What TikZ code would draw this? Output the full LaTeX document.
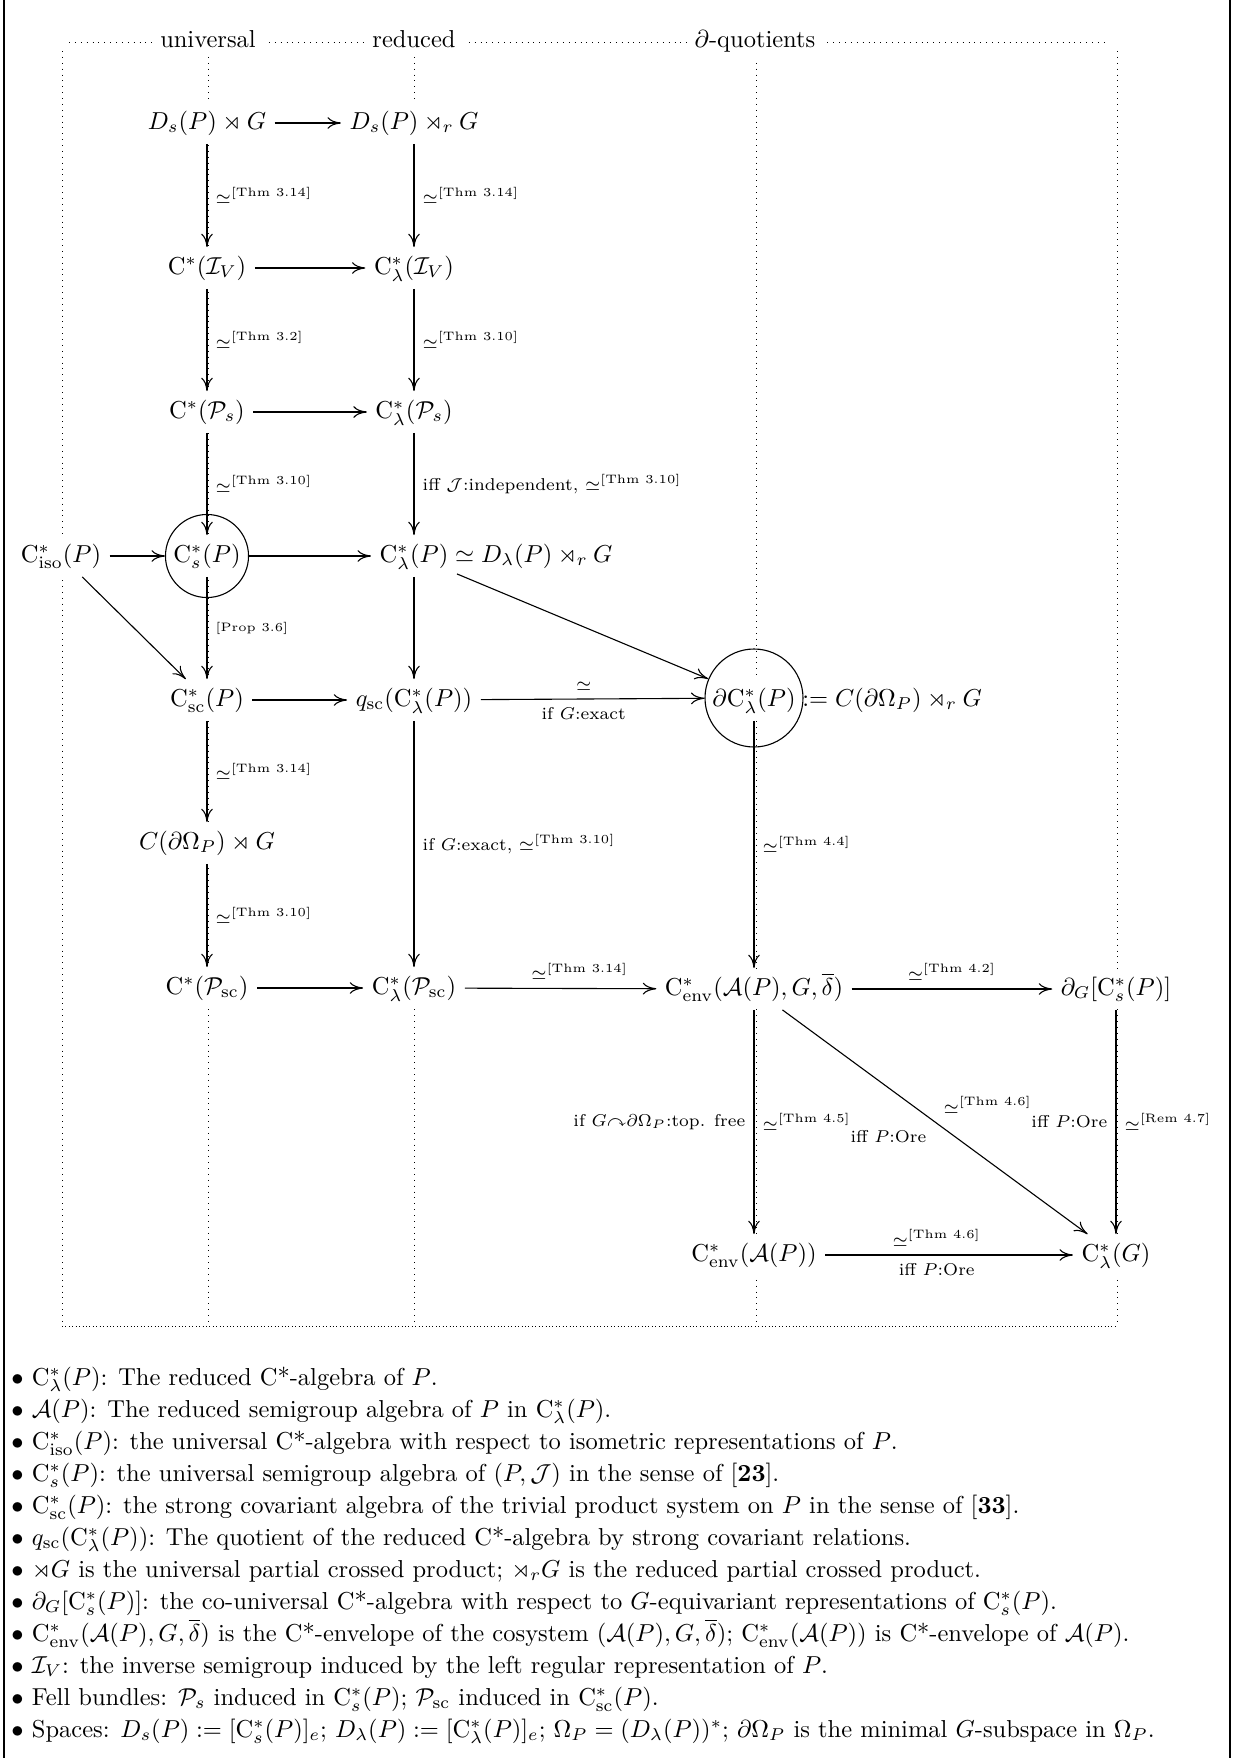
\documentclass[tikz,border=0pt]{standalone}
\usepackage{amsmath,amssymb,mathtools}
\usetikzlibrary{arrows.meta}
\newcommand{\Cst}{\mathrm{C}^*}
\newcommand{\thl}[1]{\simeq^{[\text{#1}]}}
\begin{document}
\begin{tikzpicture}[x=0.4082pt,y=-0.4082pt,
  obj/.style={fill=white, text height=7.5pt, text depth=2.5pt, inner sep=3.33pt},
  ar/.style={-{To[length=5.5pt,width=4.8pt]}, line width=0.45pt},
  lab/.style={inner sep=3.33pt},
  guide/.style={dotted, line width=0.4pt},
  hdr/.style={fill=white, inner sep=3.33pt, anchor=base},
  ring/.style={draw, circle, inner sep=0pt, line width=0.45pt},
  bul/.style={anchor=base west, inner sep=0pt}]
\useasboundingbox (0,0) rectangle (1235,1758);
% frame
\coordinate (fl1) at (4,0); \coordinate (fl2) at (4,1758);
\coordinate (fr1) at (1230,0); \coordinate (fr2) at (1230,1758);
\draw[line width=0.45pt] (fl1) -- (fl2);
\draw[line width=0.45pt] (fr1) -- (fr2);
% guide lines
\coordinate (gt1) at (69,42); \coordinate (gt2) at (1109,42);
\draw[guide] (gt1) -- (gt2);
\foreach \x in {62,208,414,756,1117} {\draw[guide] (\x,51) -- (\x,1322);}
\coordinate (gb1) at (62,1326); \coordinate (gb2) at (1117,1326);
\draw[densely dotted, line width=0.4pt] (gb1) -- (gb2);
\node[hdr] (hU) at (208,47) {universal};
\node[hdr] (hR) at (414,47) {reduced};
\node[hdr] (hQ) at (755,47) {$\partial$-quotients};
% objects
\node[obj] (n11) at (207,123) {$D_s(P)\rtimes G$};
\node[obj] (n12) at (414,123) {$D_s(P)\rtimes_r G$};
\node[obj] (n21) at (207,268) {$\Cst(\mathcal{I}_V)$};
\node[obj] (n22) at (414,268) {$\Cst_\lambda(\mathcal{I}_V)$};
\node[obj] (n31) at (207,412) {$\Cst(\mathcal{P}_s)$};
\node[obj] (n32) at (414,412) {$\Cst_\lambda(\mathcal{P}_s)$};
\node[obj] (iso) at (61,556) {$\Cst_{\mathrm{iso}}(P)$};
\node[obj] (s) at (207,556) {$\Cst_s(P)$};
\node[obj] (lam) at (414,556) {$\Cst_\lambda(P)\mathrlap{{}\simeq D_\lambda(P)\rtimes_r G}$};
\node[obj] (sc) at (207,700) {$\Cst_{\mathrm{sc}}(P)$};
\node[obj] (qsc) at (414,700) {$q_{\mathrm{sc}}(\Cst_\lambda(P))$};
\node[obj] (bd) at (754,700) {$\partial\Cst_\lambda(P)\mathrlap{{}:= C(\partial\Omega_P)\rtimes_r G}$};
\node[obj] (cb) at (207,843) {$C(\partial\Omega_P)\rtimes G$};
\node[obj] (psc) at (207,988) {$\Cst(\mathcal{P}_{\mathrm{sc}})$};
\node[obj] (lpsc) at (414,988) {$\Cst_\lambda(\mathcal{P}_{\mathrm{sc}})$};
\node[obj] (env) at (754,989) {$\Cst_{\mathrm{env}}(\mathcal{A}(P),G,\overline{\delta})$};
\node[obj] (dG) at (1116,989) {$\partial_G[\Cst_s(P)]$};
\node[obj] (envA) at (754,1255) {$\Cst_{\mathrm{env}}(\mathcal{A}(P))$};
\node[obj] (lG) at (1116,1255) {$\Cst_\lambda(G)$};
% rings
\node[ring, minimum size=33.9pt] (sC) at (s.center) {};
\node[ring, minimum size=40pt] (bdC) at (754,698) {};
% arrows
\draw[ar] (n11) -- (n12);
\draw[ar] (n11) -- node[lab,right] {$\scriptstyle\thl{Thm 3.14}$} (n21);
\draw[ar] (n12) -- node[lab,right] {$\scriptstyle\thl{Thm 3.14}$} (n22);
\draw[ar] (n21) -- (n22);
\draw[ar] (n21) -- node[lab,right] {$\scriptstyle\thl{Thm 3.2}$} (n31);
\draw[ar] (n22) -- node[lab,right] {$\scriptstyle\thl{Thm 3.10}$} (n32);
\draw[ar] (n31) -- (n32);
\draw[ar] (n31) -- node[lab,right] {$\scriptstyle\thl{Thm 3.10}$} (s);
\draw[ar] (n32) -- node[lab,right] {$\scriptstyle\text{iff }\mathcal{J}\text{:independent, }\thl{Thm 3.10}$} (lam);
\draw[ar] (iso) -- (sC);
\draw[ar] (sC) -- (lam);
\draw[ar] (iso) -- (sc);
\draw[ar] (s) -- node[lab,right] {$\scriptscriptstyle[\text{Prop 3.6}]$} (sc);
\draw[ar] (lam) -- (qsc);
\draw[ar] (lam) -- (bdC);
\draw[ar] (sc) -- (qsc);
\draw[ar] (qsc) -- node[lab,above,pos=0.46] {$\scriptstyle\simeq$} node[lab,below,pos=0.46] {$\scriptstyle\text{if }G\text{:exact}$} (bdC);
\draw[ar] (sc) -- node[lab,right] {$\scriptstyle\thl{Thm 3.14}$} (cb);
\draw[ar] (cb) -- node[lab,right] {$\scriptstyle\thl{Thm 3.10}$} (psc);
\draw[ar] (qsc) -- node[lab,right] {$\scriptstyle\text{if }G\text{:exact, }\thl{Thm 3.10}$} (lpsc);
\draw[ar] (bd) -- node[lab,right] {$\scriptstyle\thl{Thm 4.4}$} (env);
\draw[ar] (psc) -- (lpsc);
\draw[ar] (lpsc) -- node[lab,above,pos=0.6] {$\scriptstyle\thl{Thm 3.14}$} (env);
\draw[ar] (env) -- node[lab,above] {$\scriptstyle\thl{Thm 4.2}$} (dG);
\draw[ar] (env) -- node[lab,left] {$\scriptstyle\text{if }G\curvearrowright\partial\Omega_P\text{:top. free}$} node[lab,right] {$\scriptstyle\thl{Thm 4.5}$} (envA);
\draw[ar] (env) -- node[lab,anchor=south west] {$\scriptstyle\thl{Thm 4.6}$} node[lab,anchor=north east] {$\scriptstyle\text{iff }P\text{:Ore}$} (lG);
\draw[ar] (dG) -- node[lab,left] {$\scriptstyle\text{iff }P\text{:Ore}$} node[lab,right] {$\scriptstyle\thl{Rem 4.7}$} (lG);
\draw[ar] (envA) -- node[lab,above,pos=0.45] {$\scriptstyle\thl{Thm 4.6}$} node[lab,below,pos=0.45] {$\scriptstyle\text{iff }P\text{:Ore}$} (lG);
% legend
\node[bul] (b1) at (11,1385) {$\bullet$\ $\Cst_\lambda(P)$: The reduced C*-algebra of $P$.};
\node[bul] (b2) at (11,1417) {$\bullet$\ $\mathcal{A}(P)$: The reduced semigroup algebra of $P$ in $\Cst_\lambda(P)$.};
\node[bul] (b3) at (11,1449) {$\bullet$\ $\Cst_{\mathrm{iso}}(P)$: the universal C*-algebra with respect to isometric representations of $P$.};
\node[bul] (b4) at (11,1481) {$\bullet$\ $\Cst_s(P)$: the universal semigroup algebra of $(P,\mathcal{J})$ in the sense of [\textbf{23}].};
\node[bul] (b5) at (11,1513) {$\bullet$\ $\Cst_{\mathrm{sc}}(P)$: the strong covariant algebra of the trivial product system on $P$ in the sense of [\textbf{33}].};
\node[bul] (b6) at (11,1545) {$\bullet$\ $q_{\mathrm{sc}}(\Cst_\lambda(P))$: The quotient of the reduced C*-algebra by strong covariant relations.};
\node[bul] (b7) at (11,1577) {$\bullet$\ $\rtimes G$ is the universal partial crossed product; $\rtimes_r G$ is the reduced partial crossed product.};
\node[bul] (b8) at (11,1609) {$\bullet$\ $\partial_G[\Cst_s(P)]$: the co-universal C*-algebra with respect to $G$-equivariant representations of $\Cst_s(P)$.};
\node[bul] (b9) at (11,1641) {$\bullet$\ $\Cst_{\mathrm{env}}(\mathcal{A}(P),G,\overline{\delta})$ is the C*-envelope of the cosystem $(\mathcal{A}(P),G,\overline{\delta})$; $\Cst_{\mathrm{env}}(\mathcal{A}(P))$ is C*-envelope of $\mathcal{A}(P)$.};
\node[bul] (b10) at (11,1673) {$\bullet$\ $\mathcal{I}_V$: the inverse semigroup induced by the left regular representation of $P$.};
\node[bul] (b11) at (11,1705) {$\bullet$\ Fell bundles: $\mathcal{P}_s$ induced in $\Cst_s(P)$; $\mathcal{P}_{\mathrm{sc}}$ induced in $\Cst_{\mathrm{sc}}(P)$.};
\node[bul] (b12) at (11,1737) {$\bullet$\ Spaces: $D_s(P) := [\Cst_s(P)]_e$; $D_\lambda(P) := [\Cst_\lambda(P)]_e$; $\Omega_P = (D_\lambda(P))^*$; $\partial\Omega_P$ is the minimal $G$-subspace in $\Omega_P$.};
\end{tikzpicture}
\end{document}
